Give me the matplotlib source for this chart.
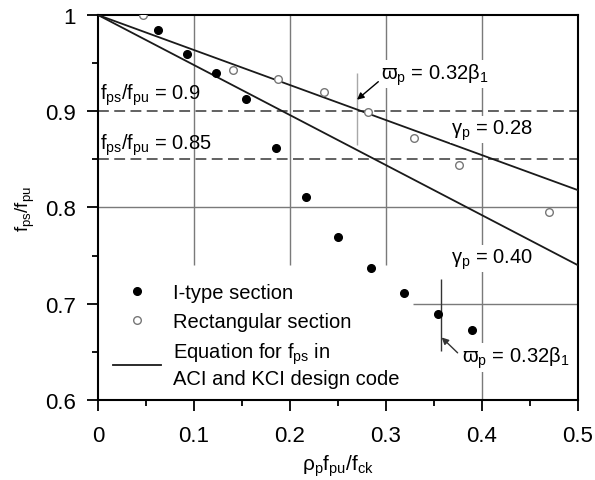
import matplotlib
matplotlib.use('Agg')
import matplotlib.pyplot as plt
from matplotlib.lines import Line2D
from matplotlib.ticker import MultipleLocator, FuncFormatter

plt.rcParams['font.family'] = ['Liberation Sans', 'DejaVu Sans']
plt.rcParams['mathtext.fontset'] = 'custom'
plt.rcParams['mathtext.rm'] = 'Liberation Sans'
plt.rcParams['mathtext.it'] = 'Liberation Sans:italic'
plt.rcParams['mathtext.bf'] = 'Liberation Sans:bold'
plt.rcParams['mathtext.default'] = 'regular'
plt.rcParams['mathtext.fallback'] = 'stixsans'

# ---- data ----
itype_x = [0.062, 0.093, 0.123, 0.154, 0.185, 0.217, 0.250, 0.284, 0.319, 0.3545, 0.390]
itype_y = [0.984, 0.960, 0.940, 0.913, 0.862, 0.811, 0.769, 0.737, 0.711, 0.689, 0.673]
rect_x = [0.0465, 0.141, 0.188, 0.235, 0.2816, 0.329, 0.376, 0.470]
rect_y = [1.000, 0.943, 0.9335, 0.920, 0.899, 0.872, 0.8445, 0.795]
eq_x = [0.0, 0.5]
eq_y_028 = [1.0, 0.818]
eq_y_040 = [1.0, 0.740]
limit_levels = [0.9, 0.85]
x_ticks = [0, 0.1, 0.2, 0.3, 0.4, 0.5]
y_ticks = [0.6, 0.7, 0.8, 0.9, 1.0]

FS = 14.5      # annotations / legend
TFS = 16       # tick labels

fig = plt.figure(figsize=(5.95, 4.81), dpi=100)
ax = fig.add_axes([98/595, 1-401/481, 480/595, 385/481])
ax.set_xlim(0, 0.5)
ax.set_ylim(0.6, 1.0)

# partial grid lines
gcol = '#7a7a7a'
ax.vlines([0.1, 0.2, 0.3], 0.74, 1.0, color=gcol, lw=1.0, zorder=1)
ax.vlines([0.4], 0.6, 1.0, color=gcol, lw=1.0, zorder=1)
ax.hlines([0.8], 0.0, 0.5, color=gcol, lw=1.0, zorder=1)
ax.hlines([0.7], 0.3285, 0.5, color=gcol, lw=1.0, zorder=1)
ax.vlines([0.2694], 0.865, 0.94, color='#a8a8a8', lw=1.0, zorder=1)
ax.vlines([0.357], 0.651, 0.726, color='#333333', lw=1.0, zorder=1)

# limit dashed lines
for lv in limit_levels:
    ax.axhline(lv, color='#555555', lw=1.3, dashes=(6, 3), zorder=2)

# equation lines
ax.plot(eq_x, eq_y_028, color='#1a1a1a', lw=1.3, zorder=3)
ax.plot(eq_x, eq_y_040, color='#1a1a1a', lw=1.3, zorder=3)

# data points
ax.plot(itype_x, itype_y, 'o', color='black', ms=5.5, zorder=5)
ax.plot(rect_x, rect_y, 'o', mfc='white', mec='#777777', mew=1.0, ms=5.5, zorder=5)

# texts
bb = dict(facecolor='white', edgecolor='none', pad=1.0)
ax.text(0.002, 0.918, r'f$_{ps}$/f$_{pu}$ = 0.9', fontsize=FS, ha='left', va='center', zorder=6)
ax.text(0.002, 0.866, r'f$_{ps}$/f$_{pu}$ = 0.85', fontsize=FS, ha='left', va='center', zorder=6)
ax.text(0.2948, 0.9387, r'$\varpi_{p}$ = 0.32β$_{1}$', fontsize=FS, ha='left', va='center', bbox=bb, zorder=6)
ax.text(0.368, 0.881, r'γ$_{p}$ = 0.28', fontsize=FS, ha='left', va='center', bbox=bb, zorder=6)
ax.text(0.368, 0.747, r'γ$_{p}$ = 0.40', fontsize=FS, ha='left', va='center', bbox=bb, zorder=6)
ax.text(0.379, 0.644, r'$\varpi_{p}$ = 0.32β$_{1}$', fontsize=FS, ha='left', va='center', bbox=bb, zorder=6)

# arrows
ax.annotate('', xy=(0.2698, 0.912), xytext=(0.292, 0.9307),
            arrowprops=dict(arrowstyle='-|>', color='black', lw=1.0, mutation_scale=10, shrinkA=0, shrinkB=0), zorder=7)
ax.annotate('', xy=(0.358, 0.665), xytext=(0.3746, 0.649),
            arrowprops=dict(arrowstyle='-|>', color='#333333', lw=1.0, mutation_scale=10, shrinkA=0, shrinkB=0), zorder=7)

# legend
handles = [
    Line2D([], [], ls='none', marker='o', color='black', ms=5.5),
    Line2D([], [], ls='none', marker='o', mfc='white', mec='#777777', mew=1.0, ms=5.5),
    Line2D([], [], color='#1a1a1a', lw=1.3),
]
labels = ['I-type section', 'Rectangular section', 'Equation for f$_{ps}$ in\nACI and KCI design code']
ax.legend(handles, labels, loc='upper left', bbox_to_anchor=(0.0306, 0.305), frameon=False,
          fontsize=FS, handlelength=2.39, handletextpad=0.6, labelspacing=0.5, borderpad=0,
          borderaxespad=0)

# axes styling
for s in ax.spines.values():
    s.set_linewidth(1.5)
    s.set_color('black')
ax.set_xticks(x_ticks)
ax.set_yticks(y_ticks)
ax.xaxis.set_minor_locator(MultipleLocator(0.05))
ax.yaxis.set_minor_locator(MultipleLocator(0.05))
fmt = FuncFormatter(lambda v, p: f'{v:g}')
ax.xaxis.set_major_formatter(fmt)
ax.yaxis.set_major_formatter(fmt)
ax.tick_params(which='major', direction='out', length=8, width=1.3, labelsize=TFS, color='black')
ax.tick_params(axis='x', which='major', pad=10)
ax.tick_params(axis='y', which='major', pad=8)
ax.tick_params(which='minor', direction='out', length=4, width=1.3, color='black')

ax.set_xlabel(r'ρ$_{p}$f$_{pu}$/f$_{ck}$', fontsize=15, labelpad=5)
ax.set_ylabel(r'f$_{ps}$/f$_{pu}$', fontsize=13.5, labelpad=6)

fig.savefig('out.png', dpi=100)
